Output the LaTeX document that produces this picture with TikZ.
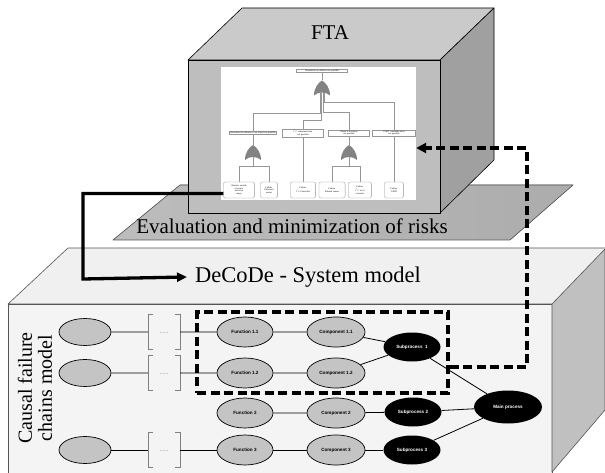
\documentclass[tikz,border=0pt]{standalone}
\usepackage{fontspec}
\setmainfont{Liberation Serif}
\newfontfamily\labelsans{Liberation Sans}
\usetikzlibrary{shapes.geometric,arrows.meta}

\definecolor{ftatop}{RGB}{202,202,202}
\definecolor{ftafront}{RGB}{190,190,190}
\definecolor{ftaside}{RGB}{160,160,160}
\definecolor{plate}{RGB}{172,172,172}
\definecolor{sysfront}{RGB}{244,244,244}
\definecolor{systop}{RGB}{240,240,240}
\definecolor{sysside}{RGB}{192,192,192}
\definecolor{nodegray}{RGB}{196,196,196}
\definecolor{edgegray}{RGB}{85,85,85}
\definecolor{treeline}{RGB}{150,150,150}

\tikzset{
  face/.style={draw=edgegray,line width=0.6pt,line join=round},
  title/.style={font=\fontsize{21}{24}\selectfont,inner sep=0pt},
  grayell/.style={ellipse,draw=black,line width=0.7pt,fill=nodegray,inner sep=0pt,
    minimum width=56pt,minimum height=30pt,font=\labelsans\bfseries\fontsize{4.6}{5}\selectfont},
  leftell/.style={grayell,minimum width=52pt,minimum height=27pt},
  blackell/.style={ellipse,fill=black,inner sep=0pt,minimum width=57pt,minimum height=29pt,
    text=white,font=\labelsans\bfseries\fontsize{4.6}{5}\selectfont},
  brk/.style={rectangle,inner sep=0pt,minimum width=32pt,minimum height=35pt,
    text=gray,font=\fontsize{6}{6}\selectfont},
  brkline/.style={draw=gray,line width=0.6pt},
  link/.style={draw=black,line width=0.8pt},
  ftbox/.style={rectangle,draw=treeline,line width=0.3pt,fill=white,inner sep=0.6pt,
    align=center,font=\fontsize{2.3}{2.6}\selectfont},
  ftleaf/.style={ftbox,rounded corners=2pt,minimum height=16pt},
  ftline/.style={draw=treeline,line width=0.4pt},
  orgate/.pic={
    \fill[gray!70!black!75] (-8,7.5) .. controls (-8,0) and (-4,-5) .. (0,-7.5)
      .. controls (4,-5) and (8,0) .. (8,7.5)
      .. controls (4,3.5) and (-4,3.5) .. (-8,7.5) -- cycle;
    \coordinate (-top) at (0,-7.5);
    \coordinate (-out) at (0,5);
  },
  bigarrow/.style={draw=black,line width=3.3pt,-{Triangle[length=10pt,width=9pt]}},
  dasharrow/.style={draw=black,line width=3.3pt,dash pattern=on 9pt off 4.5pt,
    -{Triangle[length=10pt,width=10pt]}},
  grpbox/.style={rectangle,draw=black,line width=3.3pt,dash pattern=on 9pt off 4.5pt,
    minimum width=251pt,minimum height=81pt,inner sep=0pt}
}

\begin{document}
\begin{tikzpicture}[x=1pt,y=-1pt]
\useasboundingbox (0,0) rectangle (605,473);
\fill[white] (0,0) rectangle (605,473);
\clip (0,0) rectangle (605,473);

% ---------- system model block ----------
\filldraw[face,fill=systop] (8,304) -- (68,248) -- (660,248) -- (552,304) -- cycle;
\filldraw[face,fill=sysfront] (8,304) rectangle (552,480);
\filldraw[face,fill=sysside] (552,304) -- (605,249) -- (605,410) -- (552,472) -- cycle;

% ---------- risk plate ----------
\filldraw[face,left color=plate!80!white,right color=plate] (113,240) -- (180,185) -- (573,185) -- (510,240) -- cycle;

% ---------- FTA block ----------
\filldraw[face,draw=black,fill=ftatop] (188,60) -- (242,8) -- (494,8) -- (440,60) -- cycle;
\filldraw[face,draw=black,fill=ftaside] (440,60) -- (494,8) -- (494,160) -- (440,213) -- cycle;
\filldraw[face,draw=black,fill=ftafront] (188,60) rectangle (440,213);

% fault tree sheet
\node[rectangle,fill=white,minimum width=195pt,minimum height=133pt,inner sep=0pt] (ftaimg) at (318.5,133.5) {};

\node[ftbox,text width=50pt] (te) at (322,71) {Orientation on obstacle not possible};
\pic (g0) at (322,88) {orgate};

\node[ftbox,text width=46pt] (b1) at (253,133) {Determine the distance to an object not possible};
\node[ftbox,text width=40pt] (b2) at (303,133) {I\textsuperscript{2}C communication\\ not possible};
\node[ftbox,text width=40pt] (b3) at (349,133) {Obstacle detection\\ not possible};
\node[ftbox,text width=42pt] (b4) at (394,133) {UART communication\\ not possible};

\pic (g1) at (253,152.5) {orgate};
\pic (g2) at (349,152.5) {orgate};

\node[ftleaf,text width=30pt] (l1) at (239,190) {Obstacle outside\\ of sensor\\ detection\\ range};
\node[ftleaf,text width=16pt] (l2) at (269,190) {Failure\\ Ultrasonic\\ sensor};
\node[ftleaf,text width=24pt] (l3) at (303,190) {Failure\\ I\textsuperscript{2}C Controller};
\node[ftleaf,text width=25pt] (l4) at (332,190) {Failure\\ Infrared sensor};
\node[ftleaf,text width=22pt] (l5) at (360,190) {Failure\\ I\textsuperscript{2}C level\\ converter};
\node[ftleaf,text width=18pt] (l6) at (394,190) {Failure\\ UART};

\draw[ftline] (te.south) -- (g0-top);
\draw[ftline] ([xshift=-2pt]g0-out) -- ++(0,20) -| (b1.north);
\draw[ftline] ([xshift=-1pt]g0-out) -- ++(0,27) -| (b2.north);
\draw[ftline] ([xshift=1pt]g0-out) -- ++(0,19) -| (b3.north);
\draw[ftline] ([xshift=2pt]g0-out) -- ++(0,9) -| (b4.north);
\draw[ftline] (b1.south) -- (g1-top);
\draw[ftline] (g1-out) -- ++(0,9) -| (l1.north);
\draw[ftline] (g1-out) -- ++(0,9) -| (l2.north);
\draw[ftline] (b2.south) -- (l3.north);
\draw[ftline] (b3.south) -- (g2-top);
\draw[ftline] (g2-out) -- ++(0,9) -| (l4.north);
\draw[ftline] (g2-out) -- ++(0,9) -| (l5.north);
\draw[ftline] (b4.south) -- (l6.north);

% ---------- titles ----------
\node[title] (fta) at (330,33) {FTA};
\node[title] (risk) at (292,226) {Evaluation and minimization of risks};
\node[title,anchor=west,font=\fontsize{22.5}{24}\selectfont] (decode) at (195,277) {DeCoDe - System model};
\node[title,rotate=90,align=center,font=\fontsize{20}{20}\selectfont] (causal) at (35,388) {Causal failure\\ chains model};

% ---------- causal failure chains ----------
\node[leftell] (s1) at (85,332) {};
\node[leftell] (s2) at (85,373) {};
\node[leftell] (s4) at (85,450) {};

\node[brk] (k1) at (164,332) {\raisebox{-4pt}{......}};
\node[brk] (k2) at (164,373) {\raisebox{-4pt}{......}};
\node[brk] (k4) at (164,450) {\raisebox{-4pt}{......}};
\foreach \k in {k1,k2,k4}{
  \draw[brkline] ([xshift=5pt]\k.north west) -- (\k.north west) -- (\k.south west) -- ([xshift=5pt]\k.south west);
  \draw[brkline] ([xshift=-5pt]\k.north east) -- (\k.north east) -- (\k.south east) -- ([xshift=-5pt]\k.south east);
}

\node[grayell] (f11) at (245,332) {Function 1.1};
\node[grayell] (f12) at (245,373) {Function 1.2};
\node[grayell] (f2)  at (245,413) {Function 2};
\node[grayell] (f3)  at (245,450) {Function 3};

\node[grayell,minimum width=58pt] (c11) at (336,332) {Component 1.1};
\node[grayell,minimum width=58pt] (c12) at (336,373) {Component 1.2};
\node[grayell,minimum width=58pt] (c2)  at (336,413) {Component 2};
\node[grayell,minimum width=58pt] (c3)  at (336,450) {Component 3};

\node[blackell] (p1) at (412,347) {Subprocess \ 1};
\node[blackell] (p2) at (413,412) {Subprocess 2};
\node[blackell] (p3) at (412,450) {Subprocess 3};
\node[blackell,minimum width=68pt,minimum height=33pt] (mp) at (508,407) {Main process};

\draw[link] (s1) -- (k1) (k1) -- (f11) (f11) -- (c11) (c11) -- (p1);
\draw[link] (s2) -- (k2) (k2) -- (f12) (f12) -- (c12) (c12) -- (p1);
\draw[link] (f2) -- (c2) (c2) -- (p2);
\draw[link] (s4) -- (k4) (k4) -- (f3) (f3) -- (c3) (c3) -- (p3);
\draw[link] (p1) -- (mp) (p2) -- (mp) (p3) -- (mp);

% ---------- grouping and links between the models ----------
\node[grpbox] (grp) at (322.5,352.5) {};

\coordinate (turnA) at (83,279);
\draw[bigarrow] ([yshift=-3.5pt]l1.west) -| (turnA) -- ([xshift=-8pt]decode.west);

\coordinate (turnB1) at (527,367);
\coordinate (turnB2) at (527,148);
\draw[dasharrow] (grp.east |- turnB1) -- (turnB1) -- (turnB2) -- (turnB2 -| ftaimg.east);
\end{tikzpicture}
\end{document}
